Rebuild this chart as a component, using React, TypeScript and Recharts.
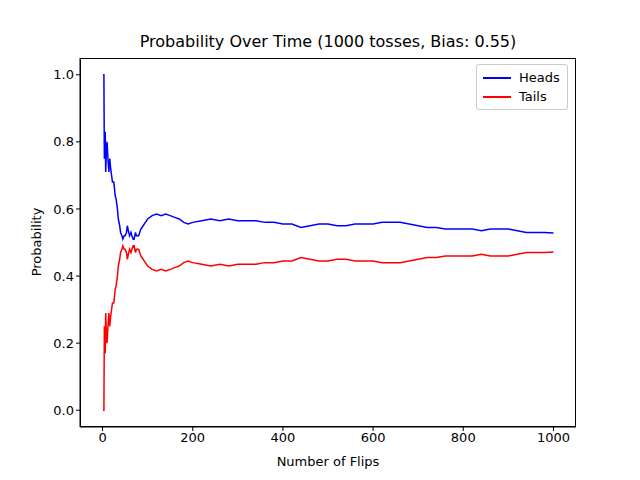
import React from "react";
import { LineChart, Line, XAxis, YAxis } from "recharts";

const flips = [1,2,3,4,5,6,7,8,9,10,12,14,16,18,20,22,25,28,30,33,35,38,40,43,45,48,50,53,55,58,60,63,65,68,70,73,75,80,85,90,95,100,110,120,130,140,150,160,170,180,190,200,220,240,260,280,300,320,340,360,380,400,420,440,460,480,500,520,540,560,580,600,620,640,660,680,700,720,740,760,780,800,820,840,860,880,900,920,940,960,980,1000];
const heads = [1.0,1.0,1.0,0.75,0.8,0.83,0.71,0.75,0.78,0.8,0.75,0.71,0.75,0.72,0.7,0.68,0.68,0.64,0.63,0.6,0.57,0.55,0.53,0.52,0.51,0.52,0.52,0.53,0.55,0.53,0.52,0.53,0.52,0.51,0.51,0.53,0.52,0.52,0.54,0.55,0.56,0.57,0.58,0.585,0.58,0.585,0.58,0.575,0.57,0.56,0.555,0.56,0.565,0.57,0.565,0.57,0.565,0.565,0.565,0.56,0.56,0.555,0.555,0.545,0.55,0.555,0.555,0.55,0.55,0.555,0.555,0.555,0.56,0.56,0.56,0.555,0.55,0.545,0.545,0.54,0.54,0.54,0.54,0.535,0.54,0.54,0.54,0.535,0.53,0.53,0.53,0.528];
const tails = [0.0,0.0,0.0,0.25,0.2,0.17,0.29,0.25,0.22,0.2,0.25,0.29,0.25,0.28,0.3,0.32,0.32,0.36,0.37,0.4,0.43,0.45,0.47,0.48,0.49,0.48,0.48,0.47,0.45,0.47,0.48,0.47,0.48,0.49,0.49,0.47,0.48,0.48,0.46,0.45,0.44,0.43,0.42,0.415,0.42,0.415,0.42,0.425,0.43,0.44,0.445,0.44,0.435,0.43,0.435,0.43,0.435,0.435,0.435,0.44,0.44,0.445,0.445,0.455,0.45,0.445,0.445,0.45,0.45,0.445,0.445,0.445,0.44,0.44,0.44,0.445,0.45,0.455,0.455,0.46,0.46,0.46,0.46,0.465,0.46,0.46,0.46,0.465,0.47,0.47,0.47,0.472];
const xTicks = [0,200,400,600,800,1000];
const yTicks = [0,0.2,0.4,0.6,0.8,1.0];

const data = flips.map((f, i) => ({ flip: f, heads: heads[i], tails: tails[i] }));
const font = "DejaVu Sans";
const tickStyle = { fontSize: 13, fill: "#000", fontFamily: font };

const LegendBox = () => (
  <div style={{ position: "absolute", left: 476, top: 64, width: 92, height: 46, border: "1px solid #ccc", borderRadius: 3, background: "#fff", fontFamily: font, fontSize: 13, boxSizing: "border-box", padding: "3px 6px" }}>
    {[["Heads", "blue"], ["Tails", "red"]].map(([n, c]) => (
      <div key={n} style={{ display: "flex", alignItems: "center", height: 19 }}>
        <div style={{ width: 28, height: 2, background: c, marginRight: 8 }} />
        <span>{n}</span>
      </div>
    ))}
  </div>
);

export default function App() {
  return (
    <div style={{ position: "absolute", left: 0, top: 0, width: 640, height: 480, background: "#fff" }}>
      <div style={{ position: "absolute", top: 32, width: 656, textAlign: "center", fontFamily: font, fontSize: 16 }}>
        Probability Over Time (1000 tosses, Bias: 0.55)
      </div>
      <LineChart width={640} height={480} data={data} margin={{ top: 58, right: 64, left: 30, bottom: 23 }}>
        <XAxis dataKey="flip" type="number" domain={[-50, 1050]} ticks={xTicks} tick={tickStyle} stroke="#000" tickLine={{ stroke: "#000" }} tickSize={4} height={30} />
        <YAxis type="number" domain={[-0.05, 1.05]} ticks={yTicks} tickFormatter={(v) => v.toFixed(1)} tick={tickStyle} stroke="#000" tickSize={4} width={50} />
        <Line dataKey="heads" stroke="blue" strokeWidth={1.5} dot={false} isAnimationActive={false} type="linear" />
        <Line dataKey="tails" stroke="red" strokeWidth={1.5} dot={false} isAnimationActive={false} type="linear" />
      </LineChart>
      <div style={{ position: "absolute", left: 80, top: 58, width: 496, height: 369, border: "1px solid #000", boxSizing: "border-box", pointerEvents: "none" }} />
      <div style={{ position: "absolute", top: 454, left: 80, width: 496, textAlign: "center", fontFamily: font, fontSize: 13 }}>Number of Flips</div>
      <div style={{ position: "absolute", left: 36, top: 242, width: 0, height: 0 }}>
        <div style={{ position: "absolute", transform: "translate(-50%,-50%) rotate(-90deg)", fontFamily: font, fontSize: 13, whiteSpace: "nowrap" }}>Probability</div>
      </div>
      <LegendBox />
    </div>
  );
}
